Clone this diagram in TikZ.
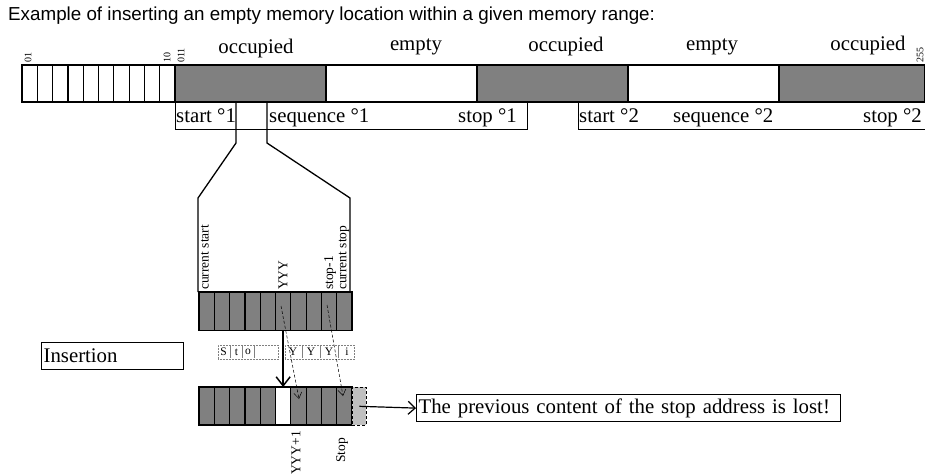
\documentclass[tikz,border=0pt]{standalone}
\usepackage{fontspec}
\setmainfont{Liberation Serif}
\newfontfamily\arialfont{Liberation Sans}
\usetikzlibrary{arrows.meta}
\definecolor{occ}{HTML}{808080}
\definecolor{lightg}{HTML}{C0C0C0}
\newcommand{\bigf}{\fontsize{20.8}{24}\selectfont}
\newcommand{\midf}{\fontsize{13.5}{15}\selectfont}
\newcommand{\smallf}{\fontsize{10}{11}\selectfont}
\newcommand{\tinyf}{\fontsize{11.5}{12}\selectfont}
\begin{document}
\begin{tikzpicture}[x=1pt,y=-1pt,
  seg/.style={draw, line width=1.2pt, anchor=north west, minimum width=151pt, minimum height=37pt, inner sep=0pt, outer sep=0pt},
  smallcell/.style={draw, line width=1.2pt, anchor=north west, minimum width=15.3pt, minimum height=37pt, inner sep=0pt, outer sep=0pt, fill=white},
  mcell/.style={draw, line width=1.2pt, anchor=north west, minimum width=15.3pt, minimum height=38.5pt, inner sep=0pt, outer sep=0pt, fill=occ},
  lab/.style={anchor=base, inner sep=0pt, font=\bigf},
  blab/.style={anchor=base west, inner sep=0pt, font=\bigf},
  rlab/.style={anchor=base east, inner sep=0pt, font=\bigf},
  rot/.style={rotate=90, inner sep=0pt, font=\smallf},
  vlab/.style={rotate=90, inner sep=0pt, font=\midf},
  labbox/.style={draw, line width=0.7pt, anchor=north west, minimum height=27pt, inner sep=0pt, outer sep=0pt},
  conn/.style={line width=1.3pt},
  dotbox/.style={draw=gray, densely dotted, line width=0.5pt, anchor=north west, minimum height=14pt, inner sep=0pt, outer sep=0pt},
  ch/.style={inner sep=0pt, font=\tinyf},
  sep/.style={draw=gray, line width=0.5pt},
  dasharrow/.style={densely dashed, line width=0.5pt, -{Straight Barb[length=6pt,width=8pt]}},
  textbox/.style={draw, line width=1.2pt, anchor=north west, minimum height=27pt, inner xsep=2pt, inner ysep=0pt, align=left, font=\bigf}
]
\useasboundingbox (0,0) rectangle (925,474);

% title
\node[anchor=base west, inner sep=0pt, font=\arialfont\fontsize{18.8}{20}\selectfont] (title) at (8,20) {Example of inserting an empty memory location within a given memory range:};

% top memory bar
\foreach \i in {0,...,9}
  \node[smallcell] (t\i) at ({22+15.3*\i},65) {};
\node[seg, fill=occ] (occA) at (175,65) {};
\node[seg, fill=white] (empA) at (326,65) {};
\node[seg, fill=occ] (occB) at (477,65) {};
\node[seg, fill=white] (empB) at (628,65) {};
\node[seg, fill=occ, minimum width=146pt] (occC) at (779,65) {};

\node[lab] (lA) at (256,53) {occupied};
\node[lab] (lB) at (416,50) {empty};
\node[lab] (lC) at (566,51) {occupied};
\node[lab] (lD) at (712,50) {empty};
\node[lab] (lE) at (868,50) {occupied};

\node[rot, anchor=west] (n01) at (28,63) {01};
\node[rot, anchor=west] (n10) at (167,63) {10};
\node[rot, anchor=west] (n011) at (181,63) {011};
\node[rot, anchor=west] (n255) at (920,63) {255};

% sequence label boxes
\node[labbox, minimum width=352pt] (box1) at (175,102) {};
\node[blab] (s1) at (176,122) {start °1};
\node[blab] (q1) at (269,122) {sequence °1};
\node[rlab] (e1) at (517,122) {stop °1};
\node[labbox, minimum width=347pt] (box2) at (578,102) {};
\node[blab] (s2) at (579,122) {start °2};
\node[blab] (q2) at (673,122) {sequence °2};
\node[rlab] (e2) at (922,122) {stop °2};

% zoom lines
\coordinate (a1) at (236,102);
\coordinate (a2) at (236,143);
\coordinate (a3) at (198,198);
\coordinate (a4) at (198,292);
\coordinate (b1) at (267,102);
\coordinate (b2) at (267,143);
\coordinate (b3) at (350,198);
\coordinate (b4) at (350,292);
\draw[conn] (a1) -- (a2) -- (a3) -- (a4);
\draw[conn] (b1) -- (b2) -- (b3) -- (b4);

% middle block
\foreach \i in {0,...,9}
  \node[mcell] (m\i) at ({199+15.3*\i},292) {};
\node[vlab, anchor=west] (vcs) at (205,290) {current start};
\node[vlab, anchor=west] (vyyy) at (283,290) {YYY};
\node[vlab, anchor=west] (vsm) at (330,290) {stop-1};
\node[vlab, anchor=west] (vcst) at (344,290) {current stop};

% lower block
\foreach \i in {0,...,9}
  \node[mcell, minimum height=38pt] (l\i) at ({199+15.3*\i},387) {};
\node[mcell, minimum height=38pt, fill=white] at (l5.north west) {};
\node[draw, densely dashed, line width=0.6pt, fill=lightg, anchor=north west, minimum width=14pt, minimum height=38pt, inner sep=0pt] (lx) at (352,387) {};
\node[vlab, anchor=east] (vy1) at (296,431) {YYY+1};
\node[vlab, anchor=east] (vst) at (342,438) {Stop};

% dotted text boxes
\node[dotbox, minimum width=60pt] (sto) at (218,345) {};
\node[ch] (c1) at (223.5,352) {S};
\node[ch] (c2) at (236.5,352) {t};
\node[ch] (c3) at (248,352) {o};
\draw[sep] (230.5,346) -- (230.5,358);
\draw[sep] (242,346) -- (242,358);
\draw[sep] (254,346) -- (254,358);
\node[dotbox, minimum width=69pt] (yyy) at (285,345) {};
\node[ch] (c4) at (293,352) {Y};
\node[ch] (c5) at (311,352) {Y};
\node[ch] (c6) at (329,352) {Y};
\node[ch] (c7) at (347,352) {i};
\draw[sep] (302,346) -- (302,358);
\draw[sep] (320,346) -- (320,358);
\draw[sep] (338,346) -- (338,358);

% insertion box
\node[textbox, text width=138pt] (ins) at (41,342) {Insertion};

% arrows
\draw[line width=1.5pt, -{Straight Barb[length=9pt,width=14pt]}] (m5.south) -- (l5.north);
\coordinate (d1s) at (281,306);
\coordinate (d1e) at (299,399);
\coordinate (d2s) at (327,305);
\coordinate (d2e) at (343,396);
\draw[dasharrow] (d1s) -- (d1e);
\draw[dasharrow] (d2s) -- (d2e);

% message
\node[textbox, text width=420pt] (msg) at (416,394) {The previous content of the stop address is lost!};
\draw[line width=1.2pt, -{Straight Barb[length=7pt,width=13pt]}] (lx.center) -- (msg.west);
\end{tikzpicture}
\end{document}
